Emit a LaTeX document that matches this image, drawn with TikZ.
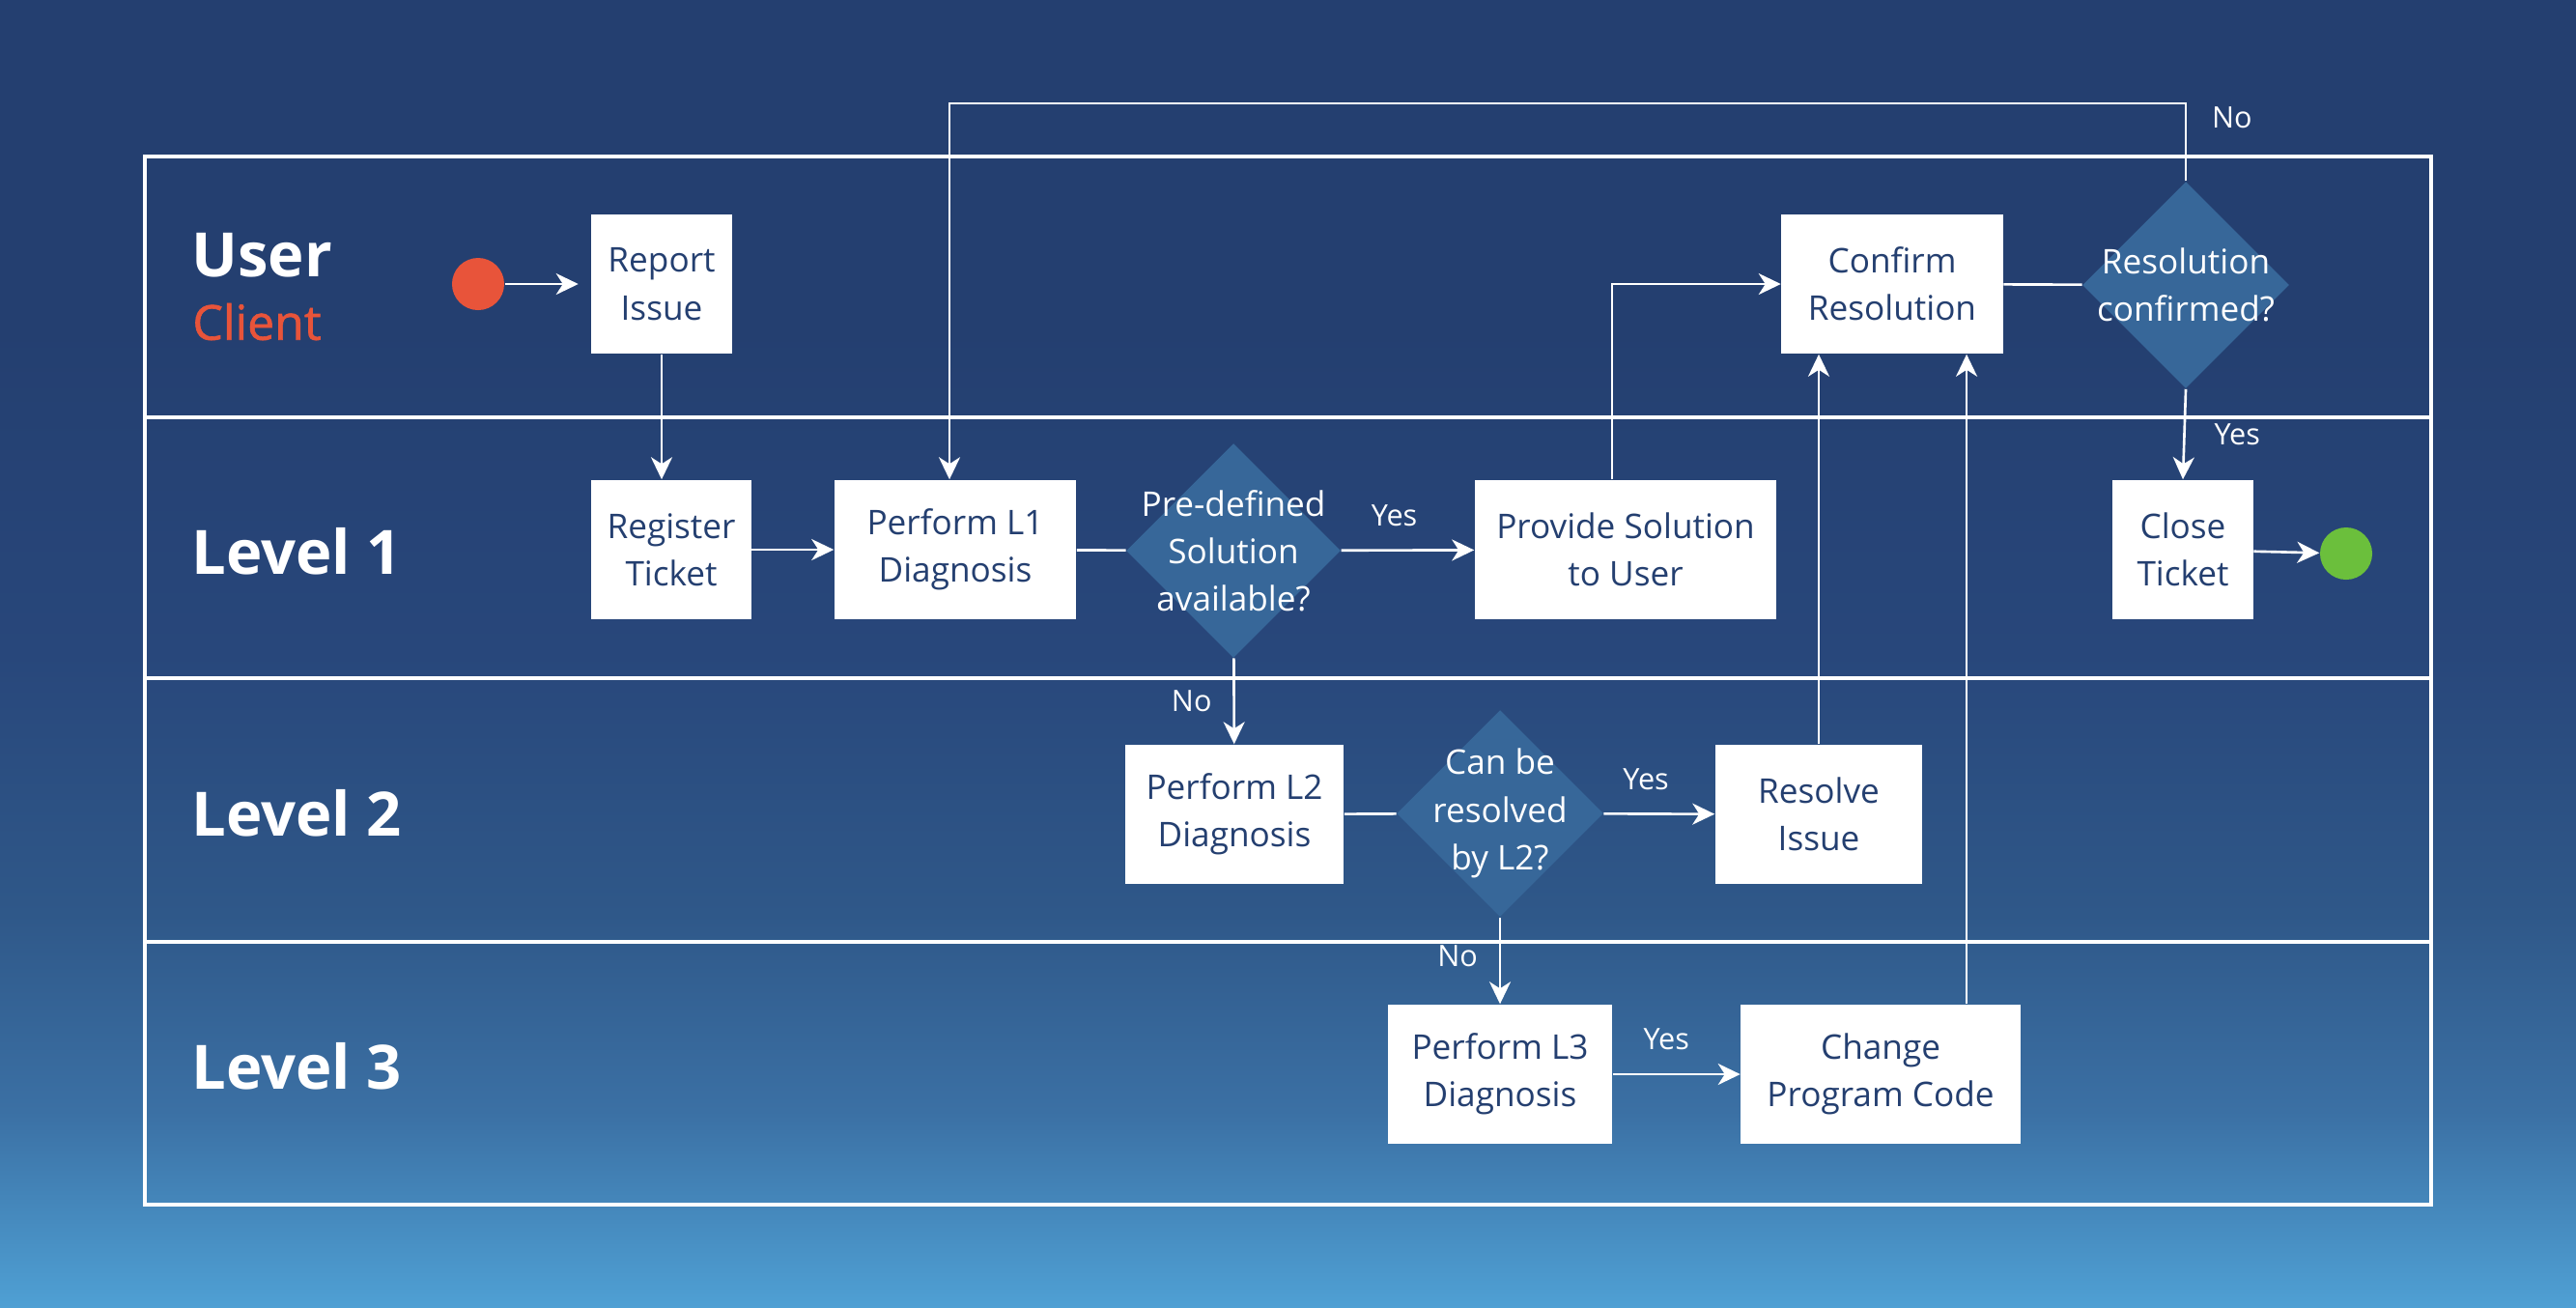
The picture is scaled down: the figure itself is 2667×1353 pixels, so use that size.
\documentclass[tikz,border=0pt]{standalone}
\usepackage{fontspec}
\setmainfont{Open Sans}
\newfontfamily\clientFont[FakeBold=1.2]{Open Sans}
\usetikzlibrary{arrows.meta,shapes.geometric}
\definecolor{navy}{HTML}{243F70}
\definecolor{choiceFill}{HTML}{376799}
\definecolor{startColor}{HTML}{E8543A}
\definecolor{endColor}{HTML}{6BBF3C}
\definecolor{bgTop}{HTML}{243F70}
\definecolor{bgMid}{HTML}{28477B}
\definecolor{bgLow}{HTML}{2F5889}
\definecolor{bgLower}{HTML}{3B70A4}
\definecolor{bgBot}{HTML}{4FA0D4}
% the picture is fitted to the middle 50bp of the shading
\pgfdeclareverticalshading{bgshade}{100bp}{color(0bp)=(bgBot); color(25bp)=(bgBot);
  color(32.5bp)=(bgLower); color(40bp)=(bgLow); color(50bp)=(bgMid);
  color(62.5bp)=(bgTop); color(100bp)=(bgTop)}
\tikzset{
  lane/.style={draw=white,line width=1.1pt},
  task/.style={fill=white,text=navy,align=center,inner sep=0pt,
    font=\fontsize{10}{14}\selectfont,minimum height=1.44cm},
  choice/.style={diamond,fill=choiceFill,inner sep=0pt,
    label={[text=white,align=center,font=\fontsize{10}{14}\selectfont]center:#1}},
  flow/.style={white,line width=0.75pt,-{Stealth[length=0.23cm,width=0.22cm,inset=0.07cm]}},
  link/.style={white,line width=0.75pt},
  answer/.style={text=white,font=\fontsize{8.7}{10}\selectfont},
  laneName/.style={text=white,anchor=west,font=\bfseries\fontsize{18}{20}\selectfont},
}

\begin{document}
\begin{tikzpicture}[x=0.01cm,y=-0.01cm]

  % background and lanes
  \shade[shading=bgshade] (0,0) rectangle (2667,1353);
  \useasboundingbox (0,0) rectangle (2667,1353);
  \draw [lane] (150,162) rectangle (2517,1247);
  \draw [lane] (150,432) -- (2517,432);
  \draw [lane] (150,702) -- (2517,702);
  \draw [lane] (150,975) -- (2517,975);

  \node [laneName] (userlane) at (186,264) {User};
  \node [text=startColor,anchor=west,font=\clientFont\fontsize{14.2}{16}\selectfont] (clientlane) at (187,333) {Client};
  \node [laneName] (lane1) at (186,571) {Level 1};
  \node [laneName] (lane2) at (186,842) {Level 2};
  \node [laneName] (lane3) at (186,1104) {Level 3};

  % user
  \node [circle,fill=startColor,minimum size=0.54cm,inner sep=0pt] (start) at (495,294) {};
  \node [task,minimum width=1.45cm] (report) at (685,294) {Report\\Issue};
  \node [task,minimum width=2.29cm] (confirm) at (1959,294) {Confirm\\Resolution};
  \node [choice={Resolution\\confirmed?},minimum width=2.14cm,minimum height=2.14cm] (conf) at (2263,295) {};

  % level 1
  \node [task,minimum width=1.65cm] (register) at (695,569) {Register\\Ticket};
  \node [task,minimum width=2.50cm] (l1) at (989,569) {Perform L1\\Diagnosis};
  \node [choice={Pre-defined\\Solution\\available?},minimum width=2.22cm,minimum height=2.22cm] (pre) at (1277,570) {};
  \node [task,minimum width=3.12cm] (provide) at (1683,569) {Provide Solution\\to User};
  \node [task,minimum width=1.45cm] (close) at (2260,569) {Close\\Ticket};
  \node [circle,fill=endColor,minimum size=0.54cm,inner sep=0pt] (finish) at (2429,573) {};

  % level 2
  \node [task,minimum width=2.26cm] (l2) at (1278,843) {Perform L2\\Diagnosis};
  \node [choice={Can be\\resolved\\by L2?},minimum width=2.14cm,minimum height=2.14cm] (canres) at (1553,842) {};
  \node [task,minimum width=2.14cm] (resolve) at (1883,843) {Resolve\\Issue};

  % level 3
  \node [task,minimum width=2.32cm] (l3) at (1553,1112) {Perform L3\\Diagnosis};
  \node [task,minimum width=2.89cm] (change) at (1947,1112) {Change\\Program Code};

  \coordinate (loop) at (2263,107);

  \draw [flow,shorten >=0.13cm] (start) -- (report);
  \draw [flow] (report.south) -- (report.south |- register.north);
  \draw [flow] (register) -- (l1);
  \draw [link] (l1) -- (pre);
  \draw [flow] (pre) -- node [answer,above=0.12cm,pos=0.4] {Yes} (provide);
  \draw [flow] (pre) -- node [answer,left=0.1cm] {No} (l2);
  \draw [flow] ([xshift=-0.14cm]provide.north) |- (confirm.west);
  \draw [link] (confirm) -- (conf);
  \draw [flow] (conf.north) -- node [answer,right=0.14cm,pos=0.82] {No} (loop) -| ([xshift=-0.06cm]l1.north);
  \draw [flow] (conf.south) -- node [answer,right=0.18cm,pos=0.5] {Yes} (close.north);
  \draw [flow] (close) -- (finish);

  \draw [link] (l2) -- (canres);
  \draw [flow] (canres) -- node [answer,above=0.12cm,pos=0.38] {Yes} (resolve);
  \draw [flow] (canres.south) -- node [answer,left=0.1cm,pos=0.45] {No} (l3.north);
  \draw [flow] (resolve.north) -- (resolve.north |- confirm.south);

  \draw [flow] (l3) -- node [answer,above=0.12cm,pos=0.42] {Yes} (change);
  \draw [flow] ([xshift=0.89cm]change.north) -- ([xshift=0.89cm]change.north |- confirm.south);

\end{tikzpicture}
\end{document}
